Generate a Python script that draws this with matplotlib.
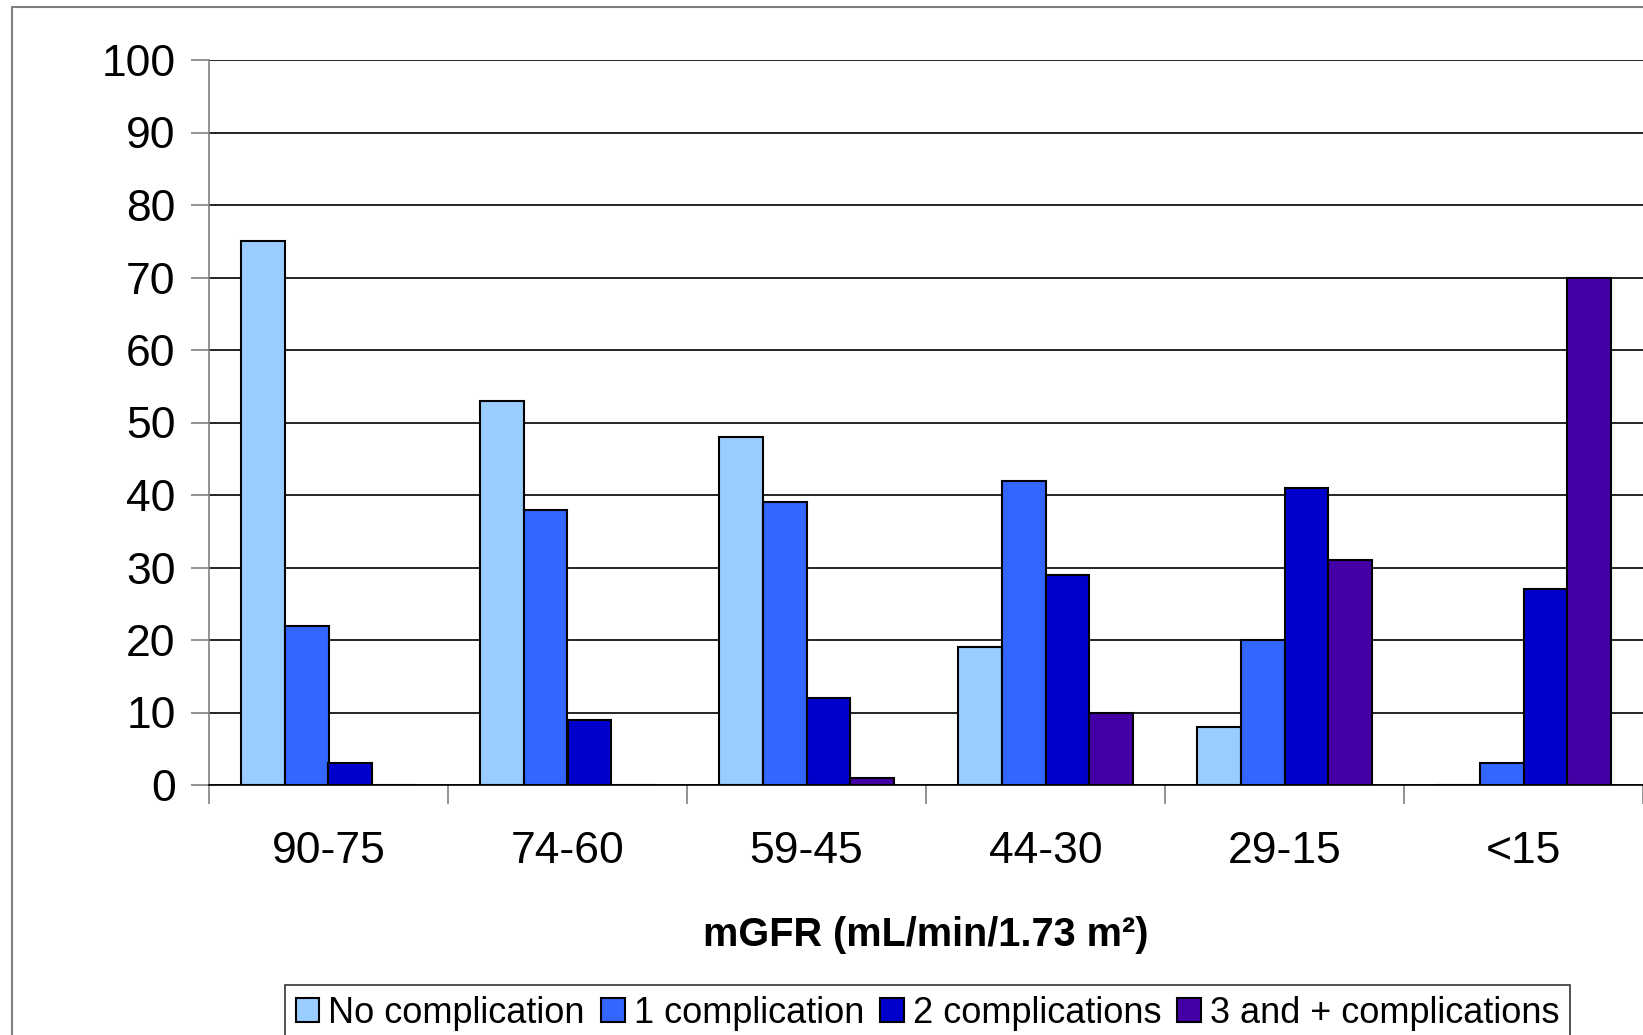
import numpy as np
import matplotlib
matplotlib.use("Agg")
import matplotlib.pyplot as plt
from matplotlib.patches import Rectangle

plt.rcParams['font.family'] = ['Liberation Sans', 'DejaVu Sans']

categories = ['90-75', '74-60', '59-45', '44-30', '29-15', '<15']
series_names = ['No complication', '1 complication', '2 complications',
                '3 and + complications']
no_comp = [75, 53, 48, 19, 8, 0]
one_comp = [22, 38, 39, 42, 20, 3]
two_comp = [3, 9, 12, 29, 41, 27]
three_comp = [0, 0, 1, 10, 31, 70]
colors = ['#99CCFF', '#3366FF', '#0000CC', '#4400A6']

W, H = 1643, 1035
fig = plt.figure(figsize=(W / 100, H / 100), dpi=100)

# outer chart border (right and bottom are cut off in the reference)
fig.add_artist(Rectangle((12 / W, -0.1), 1.2, 1 - 7 / H + 0.1,
                         transform=fig.transFigure, fill=False,
                         edgecolor='#808080', linewidth=1.5))

ax = fig.add_axes([209 / W, 1 - 785 / H, 1 - 209 / W, (785 - 60) / H])

x = np.arange(len(categories)) + 0.5
bw = 0.184
all_series = [no_comp, one_comp, two_comp, three_comp]
for i, vals in enumerate(all_series):
    ax.bar(x + (i - 1.5) * bw, vals, width=bw, color=colors[i],
           edgecolor='black', linewidth=1.5, label=series_names[i], zorder=3)

ax.set_xlim(0, len(categories))
ax.set_ylim(0, 100)
ax.set_yticks(np.arange(0, 101, 10))
ax.yaxis.grid(True, color='black', linewidth=1.2, zorder=0)
ax.tick_params(axis='y', labelsize=32, length=13, width=1.2, color='#808080',
               pad=11)

ax.set_xticks(np.arange(0, len(categories) + 1))
ax.set_xticklabels([])
ax.set_xticks(x, minor=True)
ax.set_xticklabels(categories, minor=True)
ax.tick_params(axis='x', which='major', length=14, width=1.2, color='#808080')
ax.tick_params(axis='x', which='minor', length=0, labelsize=32, pad=33)

for s in ['top', 'right']:
    ax.spines[s].set_visible(False)
ax.spines['left'].set_color('#808080')
ax.spines['left'].set_linewidth(1.2)
ax.spines['bottom'].set_color('black')
ax.spines['bottom'].set_linewidth(1.2)

fig.text(926 / W, 1 - 935 / H, 'mGFR (mL/min/1.73 m²)', fontsize=28.5,
         fontweight='bold', ha='center', va='center')

leg = fig.legend(loc='upper left', bbox_to_anchor=(285 / W, 1 - 985 / H),
                 ncol=4, fontsize=26, frameon=True, fancybox=False,
                 edgecolor='black', handlelength=0.65, handleheight=0.65,
                 handletextpad=0.25, columnspacing=0.45, borderpad=0.3,
                 borderaxespad=0)
leg.get_frame().set_linewidth(1.2)

fig.savefig('out.png', dpi=100)
